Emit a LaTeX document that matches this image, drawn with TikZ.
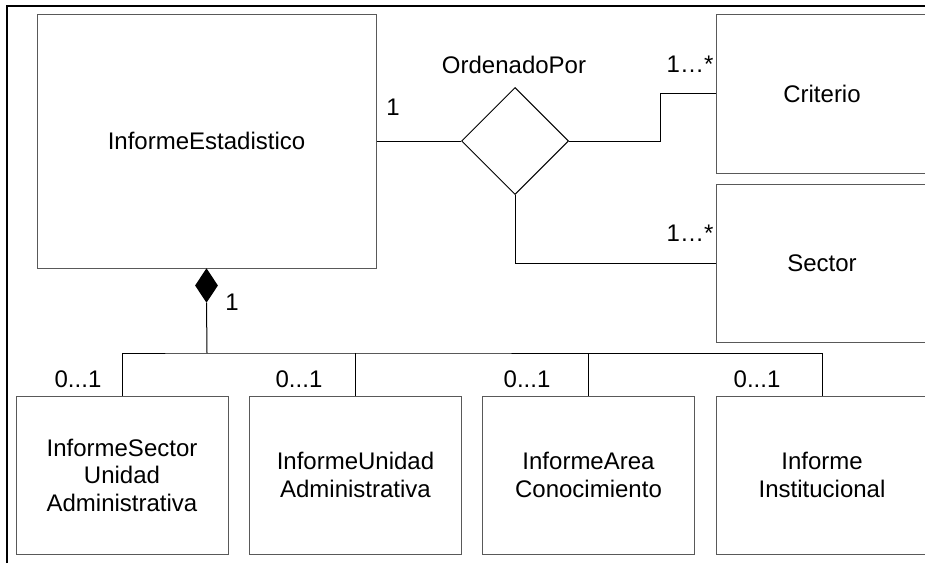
\documentclass[tikz,border=0pt]{standalone}
\usepackage{fontspec}
\setmainfont{Liberation Sans}
\usetikzlibrary{shapes.geometric}

\tikzset{
  classbox/.style={draw=black!65, line width=1pt, minimum width=212pt, align=center, inner sep=0pt},
  lbl/.style={inner sep=0pt},
  conn/.style={line width=1pt}
}

\begin{document}
\begin{tikzpicture}[x=1pt,y=-1pt,font=\fontsize{24}{27.5}\selectfont]
        \clip (0,0) rectangle (925,563);
        % Draw frame
        \draw[line width=2pt] (7,563) -- (7,6) -- (925,6);

        % Draw classes
        \node[classbox, minimum width=339pt, minimum height=254pt] (ie) at (206.5,141) {InformeEstadistico};
        \node[classbox, minimum height=159pt] (crit) at (822,93.5) {Criterio};
        \node[classbox, minimum height=158pt] (sect) at (822,263) {Sector};
        \node[classbox, minimum height=158pt] (isua) at (122,475) {InformeSector\\Unidad\\Administrativa};
        \node[classbox, minimum height=158pt] (iua) at (355.5,475) {InformeUnidad\\Administrativa};
        \node[classbox, minimum height=158pt] (iac) at (588.5,475) {InformeArea\\Conocimiento};
        \node[classbox, minimum height=158pt] (iins) at (822,475) {Informe\\Institucional};

        % Draw association
        \node[diamond, draw, line width=1pt, minimum size=107pt, inner sep=0pt] (ordp) at (515,141) {};
        \draw[conn] (ie.east) -- (ordp.west);
        \draw[conn] (ordp.east) -- ++(91,0) |- (crit.west);
        \draw[conn] (ordp.south) |- (sect.west);

        % Draw composition
        \node[diamond, draw, fill=black, line width=1pt, minimum width=22pt, minimum height=33pt, inner sep=0pt, anchor=north] (comp) at (ie.south) {};
        \coordinate (bus) at (207,353);
        \draw[conn] (comp.south) -- (bus);
        \draw[conn] (isua.north) |- (bus) -| (iins.north);
        \draw[conn] (iua.north) -- (iua.north |- bus);
        \draw[conn] (iac.north) -- (iac.north |- bus);

        % Add labels
        \node[lbl] (lord) at (514,65) {OrdenadoPor};
        \node[lbl] (lie) at (393,107) {1};
        \node[lbl] (lcrit) at (690,64) {1…*};
        \node[lbl] (lsect) at (690,233) {1…*};
        \node[lbl] (lcomp) at (232,302) {1};
        \node[lbl] (lisua) at (78,379) {0...1};
        \node[lbl] (liua) at (299,379) {0...1};
        \node[lbl] (liac) at (527,379) {0...1};
        \node[lbl] (liins) at (757,379) {0...1};
    \end{tikzpicture}
\end{document}
